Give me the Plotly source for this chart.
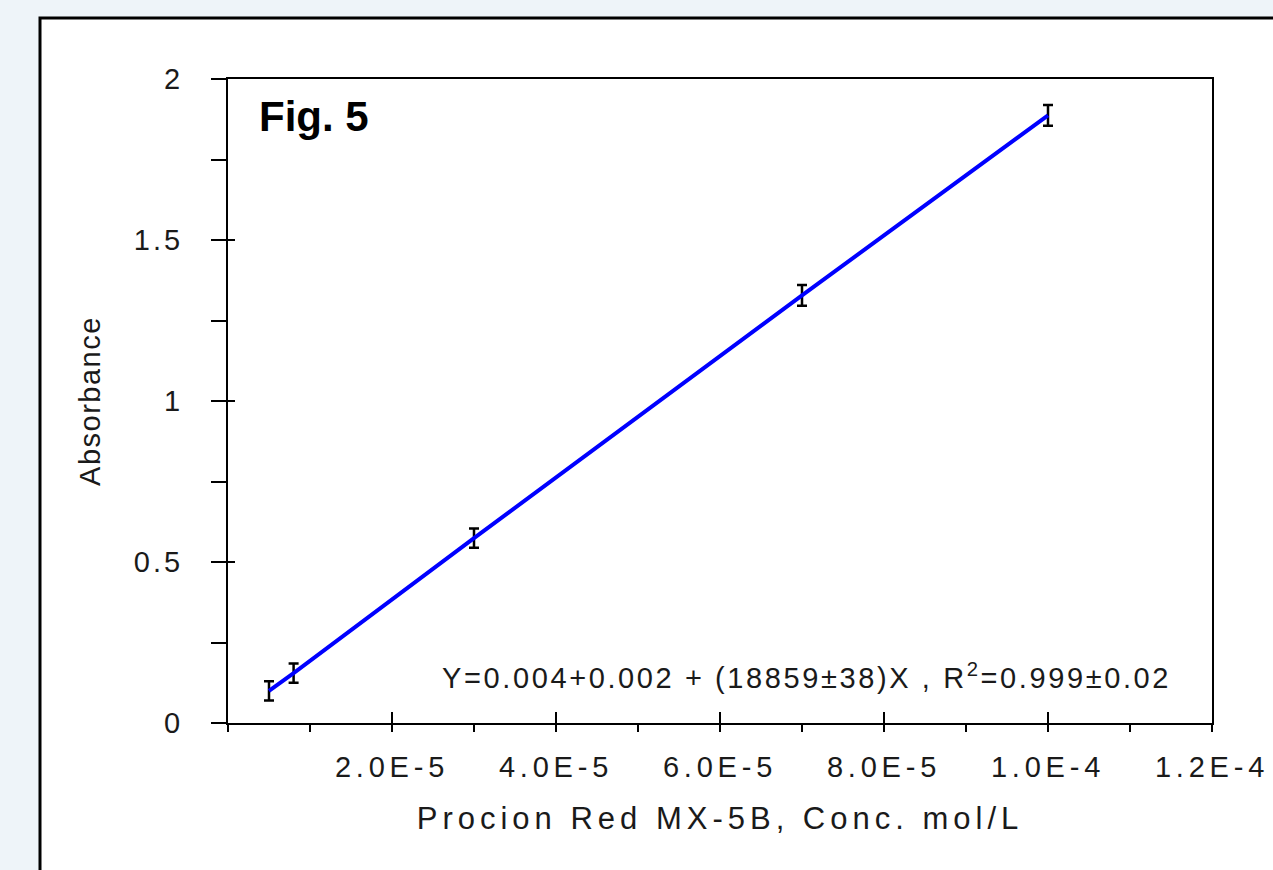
import plotly.graph_objects as go

# ---- data ----
conc = [5e-6, 8e-6, 3e-5, 7e-5, 1e-4]            # mol/L
absorbance = [0.100, 0.155, 0.574, 1.328, 1.887]
abs_err = [0.030, 0.030, 0.030, 0.032, 0.032]

x_tickvals = [2e-5, 4e-5, 6e-5, 8e-5, 1e-4, 1.2e-4]
x_ticktext = ["2.0E-5", "4.0E-5", "6.0E-5", "8.0E-5", "1.0E-4", "1.2E-4"]
y_tickvals = [0, 0.5, 1, 1.5, 2]
y_ticktext = ["0", "0.5", "1", "1.5", "2"]

x_title = "Procion Red MX-5B, Conc. mol/L"
y_title = "Absorbance"
fig_label = "Fig. 5"
equation = "Y=0.004+0.002 + (18859±38)X , R<sup>2</sup>=0.999±0.02"

# ---- layout geometry ----
W, H = 1273, 870
L, R, T, B = 228, 61, 79, 147
PW, PH = W - L - R, H - T - B


def px_x(p):
    return (p - L) / PW


def px_y(p):
    return (H - B - p) / PH


FONT = "Liberation Sans, Arial, sans-serif"

fig = go.Figure()
fig.add_trace(go.Scatter(
    x=conc, y=absorbance, mode="lines",
    line=dict(color="#0000ff", width=4),
    error_y=dict(type="data", array=abs_err, visible=True,
                 color="#000000", thickness=2.5, width=5),
    showlegend=False, hoverinfo="x+y",
))

axis_common = dict(showgrid=False, zeroline=False, showline=True,
                   linecolor="#000000", linewidth=2, mirror=True,
                   tickcolor="#000000", tickwidth=2,
                   tickfont=dict(family=FONT, size=29, color="#1a1a1a"))

fig.update_layout(
    width=W, height=H,
    margin=dict(l=L, r=R, t=T, b=B, autoexpand=False),
    paper_bgcolor="#eef4f9",
    plot_bgcolor="#ffffff",
    font=dict(family=FONT, color="#1a1a1a"),
    xaxis=dict(
        range=[0, 1.2e-4], tickmode="array",
        tickvals=x_tickvals, ticktext=x_ticktext,
        ticks="outside", ticklen=7, ticklabelstandoff=10,
        minor=dict(dtick=1e-5, tick0=0, ticks="outside", ticklen=7,
                   tickwidth=2, tickcolor="#000000", showgrid=False),
        title=dict(text=x_title, standoff=26,
                   font=dict(family=FONT, size=31, color="#1a1a1a")),
        **axis_common,
    ),
    yaxis=dict(
        range=[0, 2], tickmode="array",
        tickvals=y_tickvals, ticktext=y_ticktext,
        ticks="outside", ticklen=15, ticklabelstandoff=22,
        minor=dict(dtick=0.25, tick0=0, ticks="outside", ticklen=15,
                   tickwidth=2, tickcolor="#000000", showgrid=False),
        title=dict(text=y_title, standoff=34,
                   font=dict(family=FONT, size=29, color="#1a1a1a")),
        **axis_common,
    ),
    # overlay axes giving the inner part of the crossing major ticks
    xaxis2=dict(overlaying="x", anchor="y", side="bottom", range=[0, 1.2e-4],
                tickmode="array", tickvals=x_tickvals, ticks="inside",
                ticklen=11, tickwidth=2, tickcolor="#000000",
                showticklabels=False, showline=False, showgrid=False,
                zeroline=False),
    yaxis2=dict(overlaying="y", anchor="x", side="left", range=[0, 2],
                tickmode="array", tickvals=y_tickvals, ticks="inside",
                ticklen=7, tickwidth=2, tickcolor="#000000",
                showticklabels=False, showline=False, showgrid=False,
                zeroline=False),
    shapes=[dict(type="rect", xref="paper", yref="paper", layer="below",
                 x0=px_x(40), x1=px_x(1300), y0=px_y(900), y1=px_y(18),
                 line=dict(color="#000000", width=3), fillcolor="#ffffff")],
    annotations=[
        dict(text="<b>" + fig_label + "</b>", xref="paper", yref="paper",
             x=px_x(257), y=px_y(117), xanchor="left", yanchor="middle",
             showarrow=False, font=dict(family=FONT, size=42, color="#000000")),
        dict(text=equation, xref="paper", yref="paper",
             x=px_x(806), y=px_y(676), xanchor="center", yanchor="middle",
             showarrow=False, font=dict(family=FONT, size=29, color="#1a1a1a")),
    ],
)

# an empty trace on the overlay axes so they are drawn
fig.add_trace(go.Scatter(x=[None], y=[None], xaxis="x2", yaxis="y2",
                         showlegend=False, hoverinfo="skip"))

post = """
document.body.style.margin = '0';
document.body.style.overflow = 'hidden';
var gd = document.getElementById('{plot_id}');
function ls(sel, v){ gd.querySelectorAll(sel).forEach(function(t){ t.style.letterSpacing = v; }); }
ls('.xtick text', '4.8px');
ls('.ytick text', '3px');
ls('text.xtitle', '5px');
ls('text.ytitle', '1.5px');
gd.querySelectorAll('.annotation-text').forEach(function(t){
  if (t.textContent.indexOf('Y=') === 0) { t.style.letterSpacing = '2.6px'; }
});
"""

fig.write_html("out.html", post_script=post, config={"displayModeBar": False})
